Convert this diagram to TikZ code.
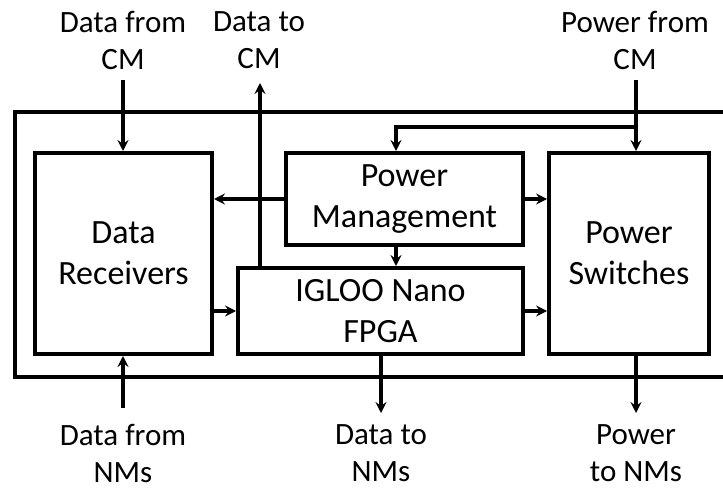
\documentclass[tikz,border=0pt]{standalone}
\usepackage{fontspec}
\setmainfont{Carlito}
\usetikzlibrary{arrows.meta}
\begin{document}
\begin{tikzpicture}[x=1pt,y=-1pt,
  box/.style={draw,line width=4pt,inner sep=0pt,align=center,font=\fontsize{34}{41}\selectfont},
  lbl/.style={align=center,inner sep=0pt,font=\fontsize{31}{37}\selectfont},
  arr/.style={line width=3.5pt,-{Stealth[length=11pt,width=11pt,inset=4pt]}}]
\useasboundingbox (0,0) rectangle (723,489);
% outer frame
\draw[line width=4pt] (723,112) -- (15,112) -- (15,377) -- (723,377);
% blocks
\node[box,minimum width=177pt,minimum height=201pt] (dr) at (123.5,253.5) {Data\\Receivers};
\node[box,minimum width=237pt,minimum height=92pt] (pm) at (404.5,199) {Power\\Management};
\node[box,minimum width=285pt,minimum height=86pt] (ig) at (380.5,311) {IGLOO Nano\\FPGA};
\node[box,minimum width=160pt,minimum height=201pt] (ps) at (629,253.5) {Power\\Switches};
% labels
\node[lbl] (l1) at (123,40) {Data from\\CM};
\node[lbl] (l2) at (259,40) {Data to\\CM};
\node[lbl] (l3) at (635,40) {Power from\\CM};
\node[lbl] (l4) at (123,453) {Data from\\NMs};
\node[lbl] (l5) at (381,453) {Data to\\NMs};
\node[lbl] (l6) at (636,453) {Power\\to NMs};
% free ends
\coordinate (dfc) at (123,80);
\coordinate (dtc) at (260,83);
\coordinate (pfc) at (636,80);
\coordinate (br) at (396,127);
\coordinate (dfn) at (123,408);
\coordinate (dtn) at (381,413);
\coordinate (ptn) at (636,413);
% connectors
\draw[arr] (dfc) -- (dfc |- dr.north);
\draw[arr] (dtc |- ig.north) -- (dtc);
\draw[arr] (pfc) -- (pfc |- ps.north);
\draw[arr] (pfc |- br) -- (br) -- (br |- pm.north);
\draw[arr] (br |- pm.south) -- (br |- ig.north);
\draw[arr] (pm.west) -- (pm.west -| dr.east);
\draw[arr] (pm.east) -- (pm.east -| ps.west);
\draw[arr] (dr.east |- ig.west) -- (ig.west);
\draw[arr] (ig.east) -- (ig.east -| ps.west);
\draw[arr] (dfn) -- (dfn |- dr.south);
\draw[arr] (dtn |- ig.south) -- (dtn);
\draw[arr] (ptn |- ps.south) -- (ptn);
\end{tikzpicture}
\end{document}
